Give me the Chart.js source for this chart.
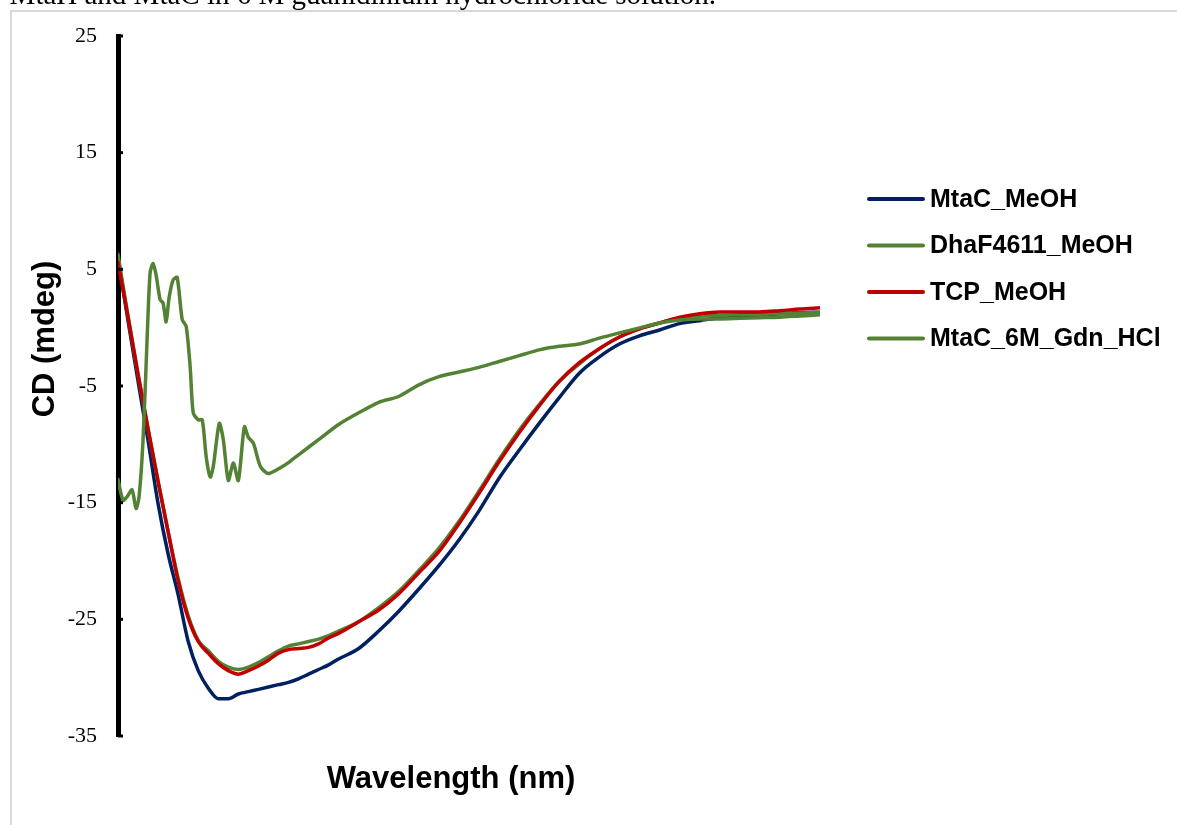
<!DOCTYPE html>
<html>
<head>
<meta charset="utf-8">
<script src="https://cdn.jsdelivr.net/npm/chart.js@4.4.1/dist/chart.umd.min.js"></script>
<style>
  html, body { margin: 0; padding: 0; background: #fff; }
  canvas { display: block; }
</style>
</head>
<body>
<canvas id="cd" width="1177" height="825"></canvas>
<script>
// Wavelength grid (nm) shared by the three methanol spectra
const wavelengths = [
  190, 191, 192, 193, 194, 195, 196, 197, 198, 199, 200, 201, 202, 203, 204, 205,
  206, 207, 208, 209, 210, 211, 212,
  214, 216, 218, 220, 222, 224, 226, 228, 230, 232, 234, 236, 238, 240, 242, 244,
  246, 248, 250, 252, 254, 256, 258, 260
];

// CD signal (mdeg)
const mtacMeOH = [
  6.0, 0.6, -4.6, -9.7, -15.1, -19.4, -22.9, -26.9, -29.4, -30.9, -31.8, -31.8, -31.4, -31.2, -31.0, -30.8,
  -30.6, -30.4, -30.1, -29.7, -29.3, -28.9, -28.4,
  -27.5, -26.0, -24.3, -22.4, -20.4, -18.2, -15.7, -12.9, -10.5, -8.2, -6.0, -3.9, -2.5, -1.4, -0.7, -0.2,
  0.35, 0.6, 0.85, 0.95, 1.05, 1.2, 1.28, 1.33
];
const dhaMeOH = [
  6.3, 1.0, -4.0, -8.7, -13.2, -17.5, -21.5, -24.7, -26.8, -27.7, -28.6, -29.1, -29.3, -29.1, -28.7, -28.2,
  -27.7, -27.3, -27.1, -26.9, -26.7, -26.4, -26.0,
  -25.2, -24.0, -22.6, -20.8, -18.9, -16.6, -14.0, -11.3, -8.8, -6.6, -4.6, -3.1, -1.8, -0.8, -0.1, 0.4,
  0.8, 1.0, 1.05, 1.1, 1.15, 1.2, 1.25, 1.3
];
const tcpMeOH = [
  5.6, 0.9, -4.0, -8.7, -13.2, -17.5, -21.7, -24.9, -26.9, -27.9, -28.8, -29.4, -29.7, -29.4, -29.0, -28.5,
  -27.9, -27.6, -27.5, -27.4, -27.1, -26.6, -26.2,
  -25.2, -24.2, -22.8, -21.0, -19.2, -16.8, -14.2, -11.5, -9.0, -6.7, -4.6, -3.0, -1.8, -0.8, -0.1, 0.4,
  0.9, 1.2, 1.35, 1.35, 1.35, 1.45, 1.6, 1.7
];

// Denatured sample is sampled more finely where the trace is noisy
const gdnWavelengths = [
  190.0, 190.5, 190.9, 191.4, 191.8, 192.1, 192.5, 192.9, 193.2, 193.5, 193.8, 194.2, 194.5, 194.8,
  195.1, 195.5, 195.9, 196.4, 196.8, 197.2, 197.5, 198.0, 198.4, 198.8, 199.2, 199.5, 200.1, 200.5,
  201.0, 201.5, 202.0, 202.6, 203.0, 203.5, 204.2, 205.0, 206.4, 207.1,
  208, 210, 212, 214, 216, 218, 220, 222, 224, 226, 228, 230, 232, 234, 236, 238, 240, 242, 244,
  246, 248, 250, 252, 254, 256, 258, 260
];
const mtacGdn = [
  -13.0, -14.8, -14.5, -13.9, -15.5, -14.5, -9.6, -1.0, 4.7, 5.5, 4.5, 2.4, 2.1, 0.5,
  2.6, 4.1, 4.3, 0.7, 0.1, -3.4, -7.3, -7.9, -7.9, -11.1, -12.8, -11.9, -8.2, -9.6,
  -13.1, -11.6, -13.1, -8.5, -9.4, -9.9, -11.9, -12.5, -11.9, -11.5,
  -10.9, -9.6, -8.3, -7.3, -6.4, -5.9, -4.9, -4.2, -3.8, -3.4, -2.9, -2.4, -1.9, -1.6, -1.4, -0.9, -0.45, -0.02, 0.4,
  0.66, 0.75, 0.75, 0.8, 0.85, 0.9, 1.0, 1.1
];

const seriesLabels = ['MtaC_MeOH', 'DhaF4611_MeOH', 'TCP_MeOH', 'MtaC_6M_Gdn_HCl'];
const yTicks = [-35, -25, -15, -5, 5, 15, 25];

const NAVY = '#002060', GREEN = '#548235', RED = '#C00000';

function points(xs, ys) {
  return xs.map((x, i) => ({ x: x, y: ys[i] }));
}

// Page frame and the caption line running off the top edge
const pageDecor = {
  id: 'pageDecor',
  beforeDraw(chart) {
    const ctx = chart.ctx;
    ctx.save();
    ctx.fillStyle = '#fff';
    ctx.fillRect(0, 0, chart.width, chart.height);
    ctx.strokeStyle = '#d9d9d9';
    ctx.lineWidth = 2;
    ctx.beginPath();
    ctx.moveTo(chart.width, 11);
    ctx.lineTo(11, 11);
    ctx.lineTo(11, chart.height);
    ctx.stroke();
    ctx.fillStyle = '#000';
    ctx.font = '29px "Liberation Serif", "Times New Roman", serif';
    ctx.textAlign = 'right';
    ctx.textBaseline = 'alphabetic';
    ctx.fillText('MtaH and MtaC in 6 M guanidinium hydrochloride solution.', 716, 4);
    ctx.restore();
  }
};

// Inward tick marks on the y axis, axis titles and the legend
const axisDecor = {
  id: 'axisDecor',
  afterDraw(chart) {
    const ctx = chart.ctx;
    const y = chart.scales.y;
    const area = chart.chartArea;
    ctx.save();
    ctx.strokeStyle = '#000';
    ctx.lineWidth = 3;
    y.ticks.forEach(t => {
      const py = y.getPixelForValue(t.value);
      ctx.beginPath();
      ctx.moveTo(area.left, py);
      ctx.lineTo(area.left + 5, py);
      ctx.stroke();
    });

    ctx.fillStyle = '#000';
    ctx.font = 'bold 31px "Liberation Sans", Arial, sans-serif';
    ctx.textAlign = 'center';
    ctx.textBaseline = 'middle';
    ctx.fillText('Wavelength (nm)', 451, 779);
    ctx.save();
    ctx.translate(45, 339);
    ctx.rotate(-Math.PI / 2);
    ctx.fillText('CD (mdeg)', 0, 0);
    ctx.restore();

    ctx.font = 'bold 25px "Liberation Sans", Arial, sans-serif';
    ctx.textAlign = 'left';
    ctx.lineCap = 'round';
    ctx.lineWidth = 4;
    chart.data.datasets.forEach((ds, i) => {
      const ly = 199 + i * 46.5;
      ctx.strokeStyle = ds.borderColor;
      ctx.beginPath();
      ctx.moveTo(869, ly);
      ctx.lineTo(923, ly);
      ctx.stroke();
      ctx.fillText(ds.label, 930, ly + 1);
    });
    ctx.restore();
  }
};

new Chart(document.getElementById('cd'), {
  type: 'line',
  data: {
    datasets: [
      { label: seriesLabels[0], data: points(wavelengths, mtacMeOH), borderColor: NAVY, order: 3,
        cubicInterpolationMode: 'monotone' },
      { label: seriesLabels[1], data: points(wavelengths, dhaMeOH), borderColor: GREEN, order: 2,
        cubicInterpolationMode: 'monotone' },
      { label: seriesLabels[2], data: points(wavelengths, tcpMeOH), borderColor: RED, order: 1,
        cubicInterpolationMode: 'monotone' },
      { label: seriesLabels[3], data: points(gdnWavelengths, mtacGdn), borderColor: GREEN, order: 0,
        tension: 0.25 }
    ]
  },
  options: {
    responsive: false,
    animation: false,
    devicePixelRatio: 1,
    layout: { padding: { left: 0, top: 36, right: 357, bottom: 89 } },
    elements: {
      point: { radius: 0 },
      line: { borderWidth: 3.5, fill: false, borderCapStyle: 'round', borderJoinStyle: 'round' }
    },
    plugins: {
      legend: { display: false },
      tooltip: { enabled: false }
    },
    scales: {
      x: { type: 'linear', min: 190, max: 260, display: false },
      y: {
        min: yTicks[0],
        max: yTicks[yTicks.length - 1],
        afterBuildTicks: s => { s.ticks = yTicks.map(v => ({ value: v })); },
        afterFit: s => { s.width = 118; },
        grid: { display: false, drawTicks: false, tickLength: 0 },
        border: { display: true, color: '#000', width: 5 },
        ticks: {
          padding: 21,
          color: '#000',
          font: { family: '"Liberation Serif", "Times New Roman", serif', size: 22 }
        }
      }
    }
  },
  plugins: [pageDecor, axisDecor]
});
</script>
</body>
</html>
